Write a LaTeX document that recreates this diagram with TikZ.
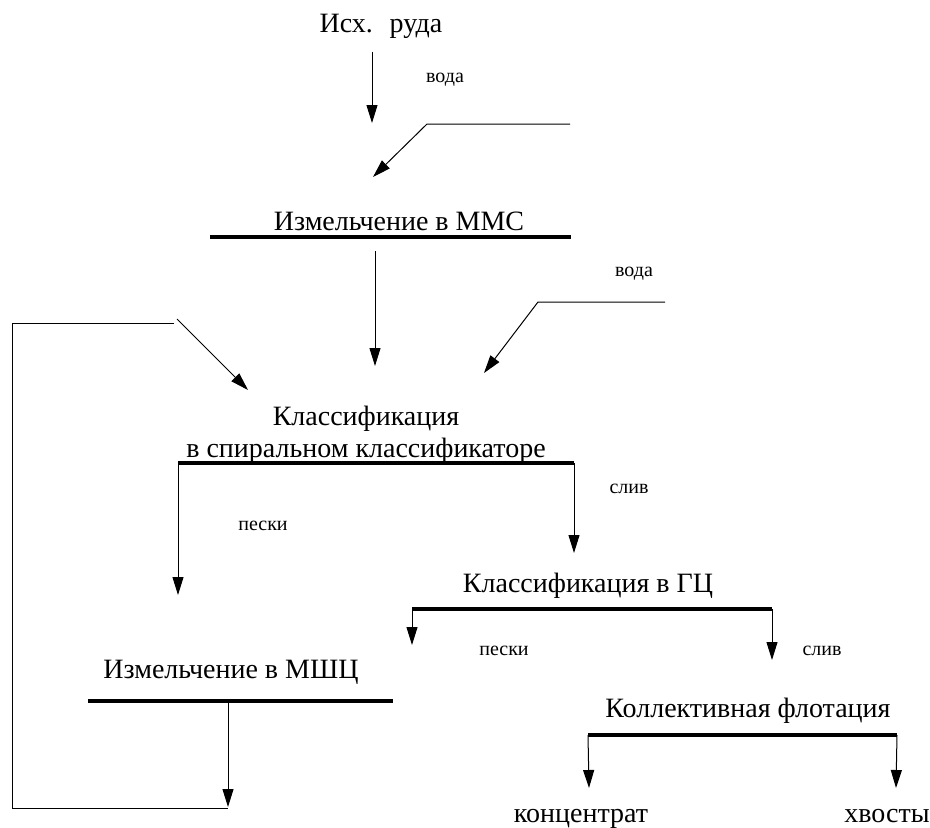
\documentclass[tikz,border=0pt]{standalone}
\usepackage{fontspec}
\setmainfont{Liberation Serif}
\usetikzlibrary{arrows.meta}
\tikzset{
  lbl/.style={font=\fontsize{28}{32}\selectfont, inner sep=0pt, anchor=base},
  sml/.style={font=\fontsize{20}{24}\selectfont, inner sep=0pt, anchor=base},
  bar/.style={line width=4.5pt},
  thin/.style={line width=1pt},
  flow/.style={line width=1pt, -{Triangle[length=18pt,width=11pt]}}
}
\begin{document}
\begin{tikzpicture}[x=1pt,y=-1pt]
\useasboundingbox (0,0) rectangle (930,828);
% texts
\node[lbl] (ore) at (381,32) {Исх.\hspace{0.6em}руда};
\node[sml] (w1) at (445,82) {вода};
\node[lbl] (mms) at (399,230) {Измельчение в ММС};
\node[sml] (w2) at (634,276) {вода};
\node[lbl] (cls1) at (366,425) {Классификация};
\node[lbl] (cls2) at (366,457) {в спиральном классификаторе};
\node[sml] (sl1) at (629,493) {слив};
\node[sml] (pk1) at (263,530) {пески};
\node[lbl] (gc) at (588,592) {Классификация в ГЦ};
\node[sml] (pk2) at (504,655) {пески};
\node[sml] (sl2) at (822,655) {слив};
\node[lbl] (msh) at (231,678) {Измельчение в МШЦ};
\node[lbl] (flot) at (748,717) {Коллективная флотация};
\node[lbl] (conc) at (581,822) {концентрат};
\node[lbl] (tail) at (887,822) {хвосты};
% coordinates
\coordinate (a1s) at (372,52);  \coordinate (a1e) at (372,123);
\coordinate (w1a) at (570,124); \coordinate (w1b) at (427,124); \coordinate (w1e) at (373,177);
\coordinate (b1l) at (210,237); \coordinate (b1r) at (571,237);
\coordinate (a2s) at (375,251); \coordinate (a2e) at (375,366);
\coordinate (w2a) at (665,302); \coordinate (w2b) at (538,302); \coordinate (w2e) at (484,373);
\coordinate (rcs) at (177,319); \coordinate (rce) at (248,390);
\coordinate (lp1) at (174,323); \coordinate (lp2) at (12,323); \coordinate (lp3) at (12,808); \coordinate (lp4) at (228,808);
\coordinate (b2l) at (178,463); \coordinate (b2r) at (574,463);
\coordinate (p1e) at (178,595); \coordinate (s1e) at (574,553);
\coordinate (b3l) at (412,609); \coordinate (b3r) at (772,609);
\coordinate (p2e) at (412,645); \coordinate (s2e) at (772,660);
\coordinate (b4l) at (88,701); \coordinate (b4r) at (393,701); \coordinate (b4m) at (228,701);
\coordinate (m2e) at (228,807);
\coordinate (b5l) at (588,735); \coordinate (b5r) at (897,735);
\coordinate (ce) at (589,788); \coordinate (te) at (896,788);
% bars
\draw[bar] (b1l) -- (b1r);
\draw[bar] (b2l) -- (b2r);
\draw[bar] (b3l) -- (b3r);
\draw[bar] (b4l) -- (b4r);
\draw[bar] (b5l) -- (b5r);
% flows
\draw[flow] (a1s) -- (a1e);
\draw[flow] (w1a) -- (w1b) -- (w1e);
\draw[flow] (a2s) -- (a2e);
\draw[flow] (w2a) -- (w2b) -- (w2e);
\draw[flow] (rcs) -- (rce);
\draw[thin] (lp1) -- (lp2) -- (lp3) -- (lp4);
\draw[flow] (b2l) -- (p1e);
\draw[flow] (b2r) -- (s1e);
\draw[flow] (b3l) -- (p2e);
\draw[flow] (b3r) -- (s2e);
\draw[flow] (b4m) -- (m2e);
\draw[flow] (b5l) -- (ce);
\draw[flow] (b5r) -- (te);
\end{tikzpicture}
\end{document}
